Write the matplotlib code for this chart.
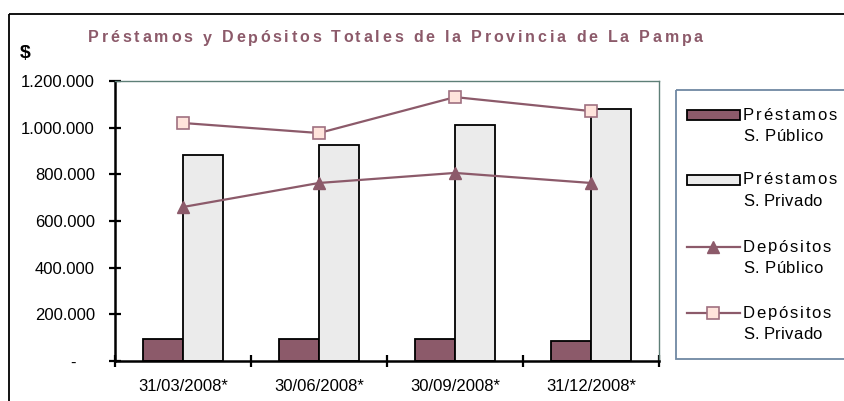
import matplotlib
matplotlib.use("Agg")
import matplotlib.pyplot as plt
from matplotlib.patches import Rectangle
from matplotlib.lines import Line2D
from matplotlib.ticker import FuncFormatter, FixedLocator
import numpy as np

plt.rcParams['font.family'] = ['Liberation Sans', 'DejaVu Sans']

# datos
fechas = ['31/03/2008*', '30/06/2008*', '30/09/2008*', '31/12/2008*']
prestamos_publico = [95000, 95000, 95000, 87000]
prestamos_privado = [883000, 926000, 1011000, 1080000]
depositos_publico = [660000, 763000, 806000, 763000]
depositos_privado = [1020000, 977000, 1131000, 1071000]
series_labels = [('Préstamos', 'S. Público'), ('Préstamos', 'S. Privado'),
                 ('Depósitos', 'S. Público'), ('Depósitos', 'S. Privado')]
titulo = 'Préstamos y Depósitos Totales de la Provincia de La Pampa'

# colores
c_dark = '#8C5A6A'
c_light = '#EBEBEB'
c_line = '#8C5A6A'
c_sq_face = '#FFE4DC'
c_sq_edge = '#A07080'
c_plot_border = '#5E7F77'
c_leg_border = '#6F88A3'

W, H = 845, 401
fig = plt.figure(figsize=(W / 100, H / 100), dpi=100)

# capa en pixeles para marco exterior, leyenda y titulo
bg = fig.add_axes([0, 0, 1, 1], zorder=0)
bg.set_xlim(0, W)
bg.set_ylim(H, 0)
bg.axis('off')
bg.add_patch(Rectangle((9.5, 13.5), W + 20, H + 20, fill=False, ec='black', lw=1.3))

# eje principal
ax = fig.add_axes([115 / W, 1 - 361 / H, (659 - 115) / W, (361 - 81) / H], zorder=2)
x = np.arange(len(fechas))
bw = 0.294
ax.bar(x - bw / 2, prestamos_publico, bw, color=c_dark, edgecolor='black', lw=1.3, zorder=2)
ax.bar(x + bw / 2, prestamos_privado, bw, color=c_light, edgecolor='black', lw=1.3, zorder=2)
ax.plot(x, depositos_publico, color=c_line, lw=1.6, marker='^', ms=9,
        mfc=c_dark, mec=c_dark, zorder=3)
ax.plot(x, depositos_privado, color=c_line, lw=1.6, marker='s', ms=8.5,
        mfc=c_sq_face, mec=c_sq_edge, mew=1.2, zorder=3)

ax.set_xlim(-0.5, len(fechas) - 0.5)
ax.set_ylim(0, 1200000)
ax.set_yticks(np.arange(0, 1200001, 200000))


def fmt_miles(v, pos):
    if v == 0:
        return '-    '
    return f'{int(v):,}'.replace(',', '.')


ax.yaxis.set_major_formatter(FuncFormatter(fmt_miles))
ax.set_xticks(x)
ax.set_xticklabels(fechas)
ax.xaxis.set_minor_locator(FixedLocator(np.arange(-0.5, len(fechas), 1.0)))
ax.tick_params(axis='x', which='major', length=0, pad=13, labelsize=12)
ax.tick_params(axis='x', which='minor', direction='inout', length=8.5, width=1.6)
ax.tick_params(axis='y', direction='inout', length=8, width=1.6, pad=10.4, labelsize=12)

for s in ['left', 'bottom']:
    ax.spines[s].set_linewidth(1.8)
    ax.spines[s].set_color('black')
for s in ['top', 'right']:
    ax.spines[s].set_linewidth(1.0)
    ax.spines[s].set_color(c_plot_border)

# "$"
bg.text(25, 53, '$', fontsize=14, fontweight='bold', ha='center', va='center')

fig.canvas.draw()
renderer = fig.canvas.get_renderer()


def texto_espaciado(s, x0, x1, y, **kw):
    # reparte el texto entre x0 y x1 agregando espacio entre letras
    probe = bg.text(0, 0, s, **kw)
    w_full = probe.get_window_extent(renderer).width
    probe.remove()
    track = max((x1 - x0 - w_full) / (len(s) - 1), 0)
    for i, ch in enumerate(s):
        off = 0
        if i > 0:
            pr = bg.text(0, 0, s[:i], **kw)
            off = pr.get_window_extent(renderer).width
            pr.remove()
        bg.text(x0 + off + i * track, y, ch, **kw)


# titulo
texto_espaciado(titulo, 88, 703, 38, fontsize=11.5, fontweight='bold', color=c_dark,
                va='center', ha='left')

# leyenda (dibujada a mano)
bg.add_patch(Rectangle((676, 90), 200, 269, fill=False, ec=c_leg_border, lw=1.3))
hx0, hx1 = 687, 740
ys = [115, 180, 247, 313]
bg.add_patch(Rectangle((hx0, ys[0] - 5), hx1 - hx0, 10, fc=c_dark, ec='black', lw=1.3))
bg.add_patch(Rectangle((hx0, ys[1] - 5), hx1 - hx0, 10, fc=c_light, ec='black', lw=1.3))
bg.add_line(Line2D([hx0, hx1], [ys[2], ys[2]], color=c_line, lw=1.6))
bg.add_line(Line2D([(hx0 + hx1) / 2], [ys[2]], marker='^', ms=9, mfc=c_dark, mec=c_dark, ls='none'))
bg.add_line(Line2D([hx0, hx1], [ys[3], ys[3]], color=c_line, lw=1.6))
bg.add_line(Line2D([(hx0 + hx1) / 2], [ys[3]], marker='s', ms=8.5, mfc=c_sq_face,
                   mec=c_sq_edge, mew=1.2, ls='none'))
anchos = {'Préstamos': 94, 'Depósitos': 88, 'S. Público': 80, 'S. Privado': 79}
for (l1, l2), yy in zip(series_labels, ys):
    texto_espaciado(l1, 743, 743 + anchos[l1], yy, fontsize=12, va='center', ha='left')
    texto_espaciado(l2, 743, 743 + anchos[l2], yy + 21.5, fontsize=12, va='center', ha='left')

fig.savefig('out.png', dpi=100)
